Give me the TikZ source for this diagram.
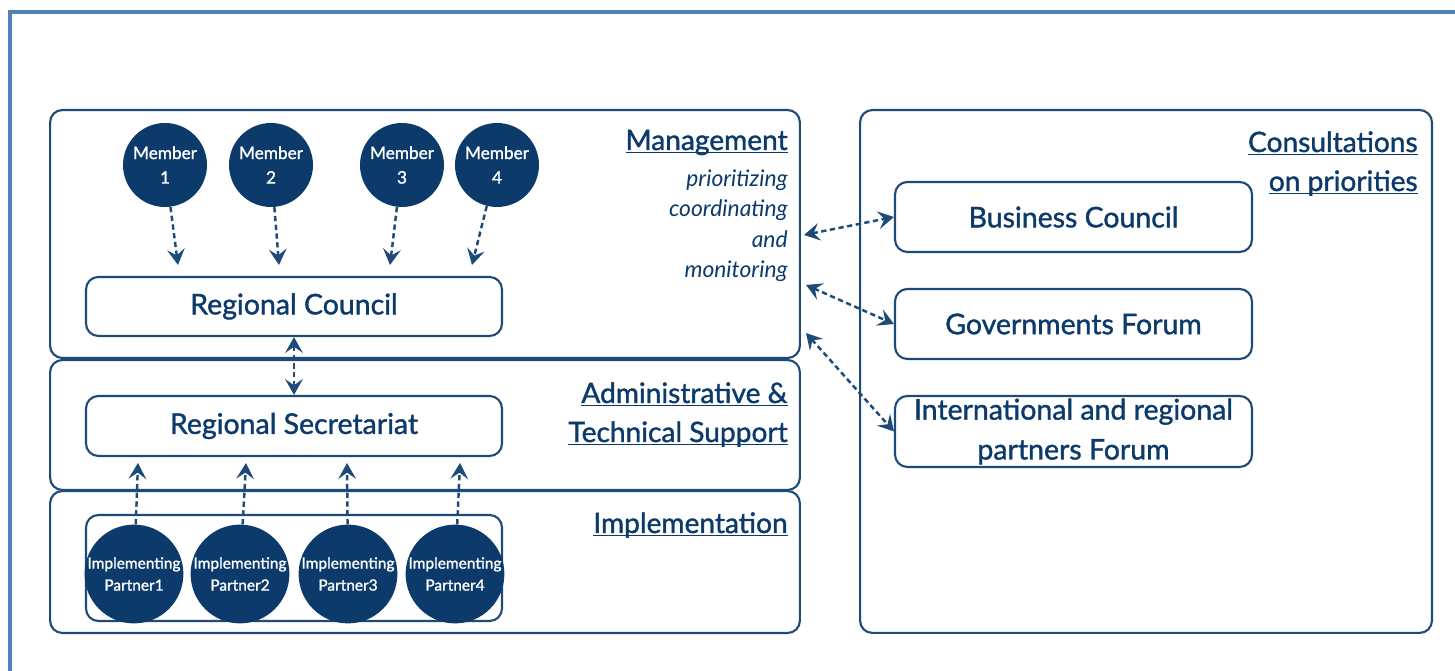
\documentclass[tikz,border=0pt]{standalone}
\usepackage{fontspec}
\setmainfont{Lato}
\newfontfamily\heavier{Lato}[FakeBold=1.3]
\newcommand{\ulabel}[1]{\underline{\smash{#1}}}
\usetikzlibrary{arrows.meta}
\definecolor{navy}{HTML}{0B3A6B}
\definecolor{boxline}{HTML}{1E4A78}
\definecolor{frameblue}{HTML}{4F81BD}

\begin{document}
\begin{tikzpicture}[x=0.02cm, y=-0.02cm,
    sect/.style={draw=boxline, line width=1.2pt, rounded corners=7pt, inner sep=0pt},
    unitbox/.style={draw=boxline, line width=1.2pt, rounded corners=7pt, text=navy, align=center, inner sep=0pt,
        minimum width=8.32cm, font=\heavier\fontsize{16.2}{22.7}\selectfont},
    member/.style={circle, fill=navy, text=white, inner sep=0pt, minimum size=1.68cm, align=center,
        font=\heavier\fontsize{9.8}{14}\selectfont},
    partner/.style={circle, fill=navy, text=white, inner sep=0pt, minimum size=1.92cm, align=center,
        font=\heavier\fontsize{8.8}{12.5}\selectfont},
    heading/.style={anchor=base east, inner sep=0pt, text=navy, font=\heavier\fontsize{16}{18}\selectfont},
    duty/.style={anchor=base east, inner sep=0pt, text=navy, font=\itshape\fontsize{13}{15}\selectfont},
    flow/.style={draw=boxline, line width=1.4pt, dash pattern=on 3pt off 2pt,
        -{Stealth[length=9pt,width=10pt,inset=3.5pt]}},
    twoway/.style={flow, {Stealth[length=9pt,width=10pt,inset=3.5pt]}-{Stealth[length=9pt,width=10pt,inset=3.5pt]}}
]
    \useasboundingbox (0,0) rectangle (1455,671);
    % frame
    \draw[frameblue, line width=2.3pt] (10,671) -- (10,12) -- (1455,12);
    % sections
    \node[sect, minimum width=15cm, minimum height=4.96cm] (mgmt) at (425,234) {};
    \node[sect, minimum width=15cm, minimum height=2.6cm] (admin) at (425,425) {};
    \node[sect, minimum width=15cm, minimum height=2.84cm] (impl) at (425,562) {};
    \node[sect, minimum width=11.44cm, minimum height=10.46cm] (consult) at (1146,371.5) {};
    % headings
    \node[heading] (hmgmt) at (788,150) {\ulabel{Management}};
    \foreach \t [count=\i] in {prioritizing,coordinating,and,monitoring} {
        \node[duty] (duty\i) at (788,156+30.5*\i) {\t};
    }
    \node[heading] (hadmin1) at (788,403) {\ulabel{Administrative \&}};
    \node[heading] (hadmin2) at (788,442) {\ulabel{Technical Support}};
    \node[heading] (himpl) at (788,533) {\ulabel{Implementation}};
    \node[heading] (hcons1) at (1418,152) {\ulabel{Consultations}};
    \node[heading] (hcons2) at (1418,191) {\ulabel{on priorities}};
    % members
    \foreach \x [count=\i] in {165,271,402,497} {
        \node[member] (member\i) at (\x,165) {Member\\\i};
    }
    \coordinate (c1) at (178,265);
    \coordinate (c2) at (279,265);
    \coordinate (c3) at (390,265);
    \coordinate (c4) at (472,265);
    \foreach \i in {1,...,4} { \draw[flow] (member\i) -- (c\i); }
    % council and secretariat
    \node[unitbox, minimum height=1.18cm] (council) at (294,306.5) {Regional Council};
    \node[unitbox, minimum height=1.2cm] (secretariat) at (294,426) {Regional Secretariat};
    \draw[twoway] (council.south) -- (secretariat.north);
    % partners
    \node[unitbox, minimum height=2.12cm] (partners) at (294,568) {};
    \foreach \x [count=\i] in {134,240,348,455} {
        \node[partner] (partner\i) at (\x,574) {Implementing\\Partner\i};
    }
    \coordinate (s1) at (138,463);
    \coordinate (s2) at (246,463);
    \coordinate (s3) at (347,463);
    \coordinate (s4) at (460,463);
    \foreach \i in {1,...,4} { \draw[flow] (partner\i) -- (s\i); }
    % forums
    \node[unitbox, minimum width=7.14cm, minimum height=1.4cm] (business) at (1073.5,217) {Business Council};
    \node[unitbox, minimum width=7.14cm, minimum height=1.4cm] (govern) at (1073.5,324) {Governments Forum};
    \node[unitbox, minimum width=7.14cm, minimum height=1.42cm] (intl) at (1073.5,431.5)
        {International and regional\\partners Forum};
    \coordinate (m1) at (804,235);
    \coordinate (m2) at (806,285);
    \coordinate (m3) at (806,333);
    \draw[twoway] (m1) -- (business.west);
    \draw[twoway] (m2) -- (govern.west);
    \draw[twoway] (m3) -- (intl.west);
\end{tikzpicture}
\end{document}
